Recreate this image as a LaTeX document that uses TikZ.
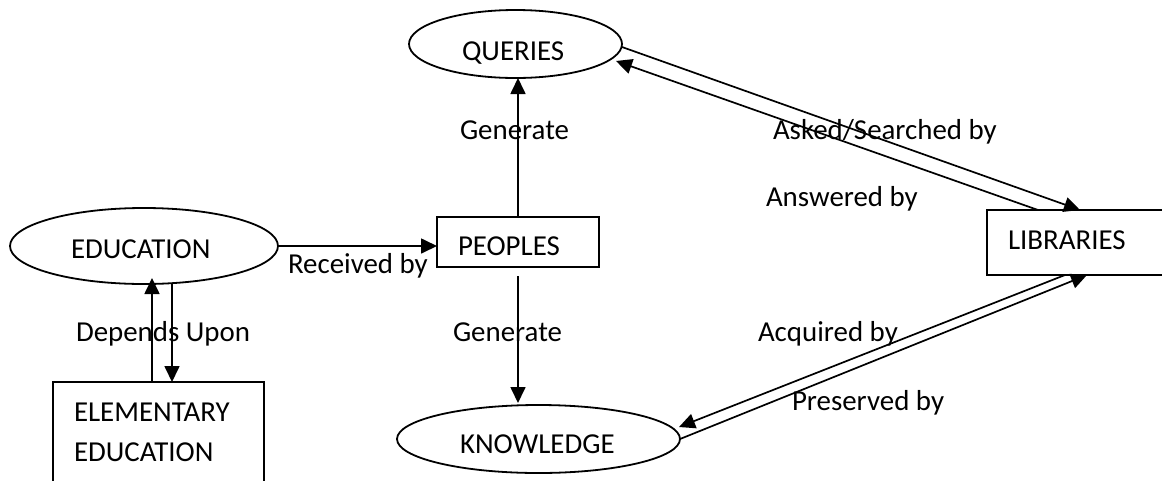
\documentclass[tikz,border=0pt]{standalone}
\usepackage{fontspec}
\setmainfont{Carlito}
\usetikzlibrary{arrows.meta,calc,shapes.geometric}
\tikzset{
  shapeline/.style={draw=black,line width=1.8pt,inner sep=0pt,outer sep=0pt},
  ell/.style={shapeline,ellipse},
  boxnode/.style={shapeline,rectangle},
  txt/.style={inner sep=0pt,outer sep=0pt,anchor=base west,font=\fontsize{28.9}{34}\selectfont},
  conn/.style={line width=1.7pt,-{Triangle[length=16pt,width=15pt]}}
}
\begin{document}
\begin{tikzpicture}[x=1pt,y=-1pt]
\useasboundingbox (0,0) rectangle (1162,480);
\fill[white] (0,0) rectangle (1162,480);
% shapes
\node[ell,minimum width=213pt,minimum height=68pt] (queries) at (515.5,44) {};
\node[ell,minimum width=268pt,minimum height=76pt] (education) at (144,246) {};
\node[ell,minimum width=283pt,minimum height=68pt] (knowledge) at (538.5,439) {};
\node[boxnode,minimum width=162pt,minimum height=50pt] (peoples) at (518,242) {};
\node[boxnode,minimum width=180pt,minimum height=65pt] (libraries) at (1077,242.5) {};
\node[boxnode,minimum width=211pt,minimum height=103pt] (elementary) at (158.5,433.5) {};
% texts
\node[txt] (tq) at (462,60.4) {QUERIES};
\node[txt] (te) at (71,258.5) {EDUCATION};
\node[txt] (tp) at (458,255) {PEOPLES};
\node[txt] (tk) at (460,453) {KNOWLEDGE};
\node[txt] (tl) at (1008,249) {LIBRARIES};
\node[txt] (tel1) at (74,421.5) {ELEMENTARY};
\node[txt] (tel2) at (74,461.5) {EDUCATION};
% labels
\node[txt] (lrec) at (288,273) {Received by};
\node[txt] (ldep) at (76,341.5) {Depends Upon};
\node[txt] (lgen1) at (460,139) {Generate};
\node[txt] (lgen2) at (453,341.5) {Generate};
\node[txt] (lask) at (773,139) {Asked/Searched by};
\node[txt] (lans) at (766,206.5) {Answered by};
\node[txt] (lacq) at (758,341.5) {Acquired by};
\node[txt] (lpre) at (792,410) {Preserved by};
% connectors
\draw[conn] (peoples.north) -- (peoples.north |- queries.south);
\draw[conn] ($(peoples.south)+(0,9)$) -- ($(peoples.south |- knowledge.north)+(0,-2)$);
\draw[conn] (education.east) -- (education.east -| peoples.west);
\draw[conn] ($(elementary.north west)+(99,0)$) -- ($(education.center)+(8,32)$);
\draw[conn] ($(education.center)+(28,38)$) -- ($(elementary.north west)+(119,0)$);
\draw[conn] ($(queries.center)+(106.5,3)$) -- ($(libraries.north west)+(93,0)$);
\draw[conn] ($(libraries.north west)+(51,0)$) -- ($(queries.center)+(100.5,17)$);
\draw[conn] ($(libraries.south west)+(78,0)$) -- ($(knowledge.center)+(140.5,-12)$);
\draw[conn] (knowledge.east) -- ($(libraries.south west)+(100,0)$);
\end{tikzpicture}
\end{document}
